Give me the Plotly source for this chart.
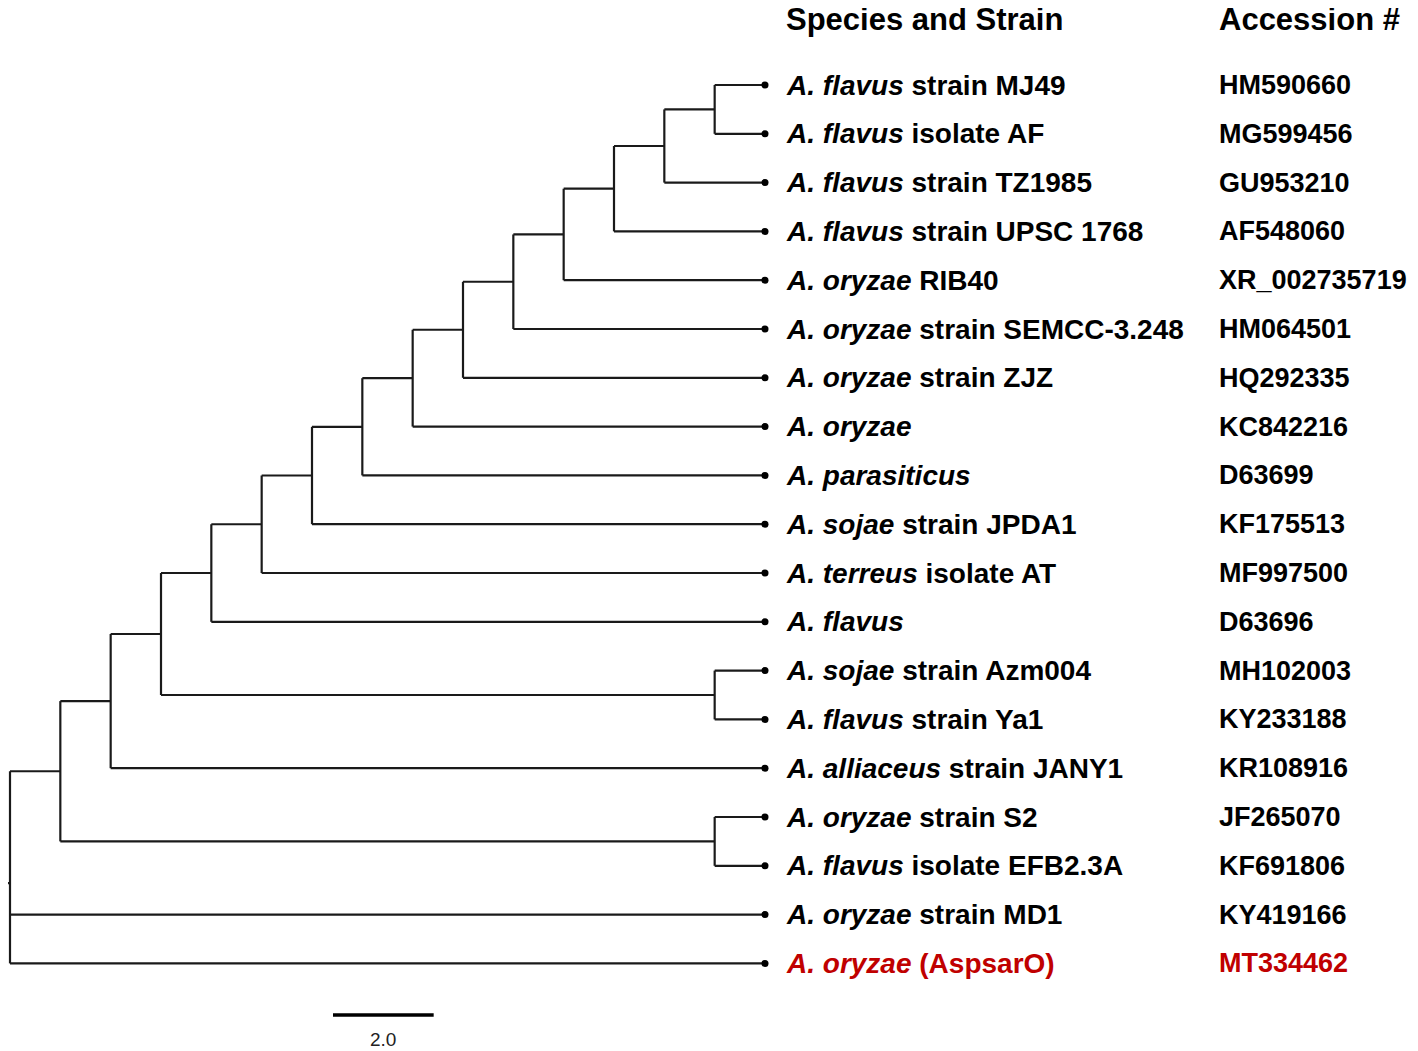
import plotly.graph_objects as go

# ---- data ----
species_italic = ["A. flavus", "A. flavus", "A. flavus", "A. flavus", "A. oryzae",
                  "A. oryzae", "A. oryzae", "A. oryzae", "A. parasiticus", "A. sojae",
                  "A. terreus", "A. flavus", "A. sojae", "A. flavus", "A. alliaceus",
                  "A. oryzae", "A. flavus", "A. oryzae", "A. oryzae"]
species_rest = ["strain MJ49", "isolate AF", "strain TZ1985", "strain UPSC 1768", "RIB40",
                "strain SEMCC-3.248", "strain ZJZ", "", "", "strain JPDA1",
                "isolate AT", "", "strain Azm004", "strain Ya1", "strain JANY1",
                "strain S2", "isolate EFB2.3A", "strain MD1", "(AspsarO)"]
accession = ["HM590660", "MG599456", "GU953210", "AF548060", "XR_002735719",
             "HM064501", "HQ292335", "KC842216", "D63699", "KF175513",
             "MF997500", "D63696", "MH102003", "KY233188", "KR108916",
             "JF265070", "KF691806", "KY419166", "MT334462"]
highlight = [False] * 18 + [True]
tip_depth = 15.0

# internal nodes: name -> (depth from root, children); tips are integers (row index)
nodes = {
    "n14": (14.0, [0, 1]),
    "n13": (13.0, ["n14", 2]),
    "n12": (12.0, ["n13", 3]),
    "n11": (11.0, ["n12", 4]),
    "n10": (10.0, ["n11", 5]),
    "n9": (9.0, ["n10", 6]),
    "n8": (8.0, ["n9", 7]),
    "n7": (7.0, ["n8", 8]),
    "n6": (6.0, ["n7", 9]),
    "n5": (5.0, ["n6", 10]),
    "n4": (4.0, ["n5", 11]),
    "nb": (14.0, [12, 13]),
    "n3": (3.0, ["n4", "nb"]),
    "n2": (2.0, ["n3", 14]),
    "nc": (14.0, [15, 16]),
    "n1": (1.0, ["n2", "nc"]),
    "root": (0.0, ["n1", 17, 18]),
}
scale_len = 2.0
scale_label = "2.0"

# ---- layout geometry (page body has an 8px margin) ----
OFF = 8
W, H = 1418 - OFF, 1051 - OFF
PXU = 755 / 15.0       # pixels per unit
ROW = 48.8             # pixels per row
X0, Y0 = 10 - OFF, 85 - OFF
PAD = 3                # annotation inner padding

ycache = {}
def node_y(n):
    if isinstance(n, int):
        return float(n)
    if n not in ycache:
        ys = [node_y(c) for c in nodes[n][1]]
        ycache[n] = sum(ys) / len(ys)
    return ycache[n]

def node_x(n):
    return tip_depth if isinstance(n, int) else nodes[n][0]

lx, ly = [], []
for name, (d, ch) in nodes.items():
    ys = [node_y(c) for c in ch]
    lx += [d, d, None]
    ly += [min(ys), max(ys), None]
    for c in ch:
        lx += [d, node_x(c), None]
        ly += [node_y(c), node_y(c), None]
# root tick
ry = node_y("root")
lx += [-X0 / PXU - 0.05, 0, None]
ly += [ry, ry, None]

fig = go.Figure()
fig.add_trace(go.Scatter(x=lx, y=ly, mode="lines",
                         line=dict(color="#1a1a1a", width=2.2),
                         hoverinfo="skip", showlegend=False))
n = len(accession)
fig.add_trace(go.Scatter(x=[tip_depth] * n, y=list(range(n)), mode="markers",
                         marker=dict(color="black", size=7),
                         hoverinfo="skip", showlegend=False))

FONT = "Arial, Liberation Sans, sans-serif"
lab_x = (787 - PAD - OFF - X0) / PXU
acc_x = (1220 - PAD - OFF - X0) / PXU
ann = []
for i in range(n):
    col = "#c00000" if highlight[i] else "black"
    txt = f"<b><i>{species_italic[i]}</i>" + (f" {species_rest[i]}" if species_rest[i] else "") + "</b>"
    ann.append(dict(x=lab_x, y=i, text=txt, xanchor="left", yanchor="middle",
                    showarrow=False, font=dict(family=FONT, size=28, color=col)))
    ann.append(dict(x=acc_x, y=i, text=f"<b>{accession[i]}</b>", xanchor="left", yanchor="middle",
                    showarrow=False, font=dict(family=FONT, size=27, color=col)))

hy = (19 - OFF - Y0) / ROW
ann.append(dict(x=lab_x, y=hy, text="<b>Species and Strain</b>", xanchor="left", yanchor="middle",
                showarrow=False, font=dict(family=FONT, size=31, color="black")))
ann.append(dict(x=acc_x, y=hy, text="<b>Accession #</b>", xanchor="left", yanchor="middle",
                showarrow=False, font=dict(family=FONT, size=31, color="black")))

# scale bar
sx0 = (333 - OFF - X0) / PXU
sy = (1015 - OFF - Y0) / ROW
fig.add_trace(go.Scatter(x=[sx0, sx0 + scale_len], y=[sy, sy], mode="lines",
                         line=dict(color="black", width=3.5),
                         hoverinfo="skip", showlegend=False))
ann.append(dict(x=sx0 + scale_len / 2, y=(1039 - OFF - Y0) / ROW, text=scale_label,
                xanchor="center", yanchor="middle", showarrow=False,
                font=dict(family=FONT, size=19, color="#222")))

fig.update_layout(
    width=W, height=H,
    margin=dict(l=0, r=0, t=0, b=0),
    paper_bgcolor="white", plot_bgcolor="white",
    xaxis=dict(range=[-X0 / PXU, (W - X0) / PXU], visible=False, fixedrange=True),
    yaxis=dict(range=[(H - Y0) / ROW, -Y0 / ROW], visible=False, fixedrange=True),
    annotations=ann,
    showlegend=False,
)
fig.write_html("out.html")
